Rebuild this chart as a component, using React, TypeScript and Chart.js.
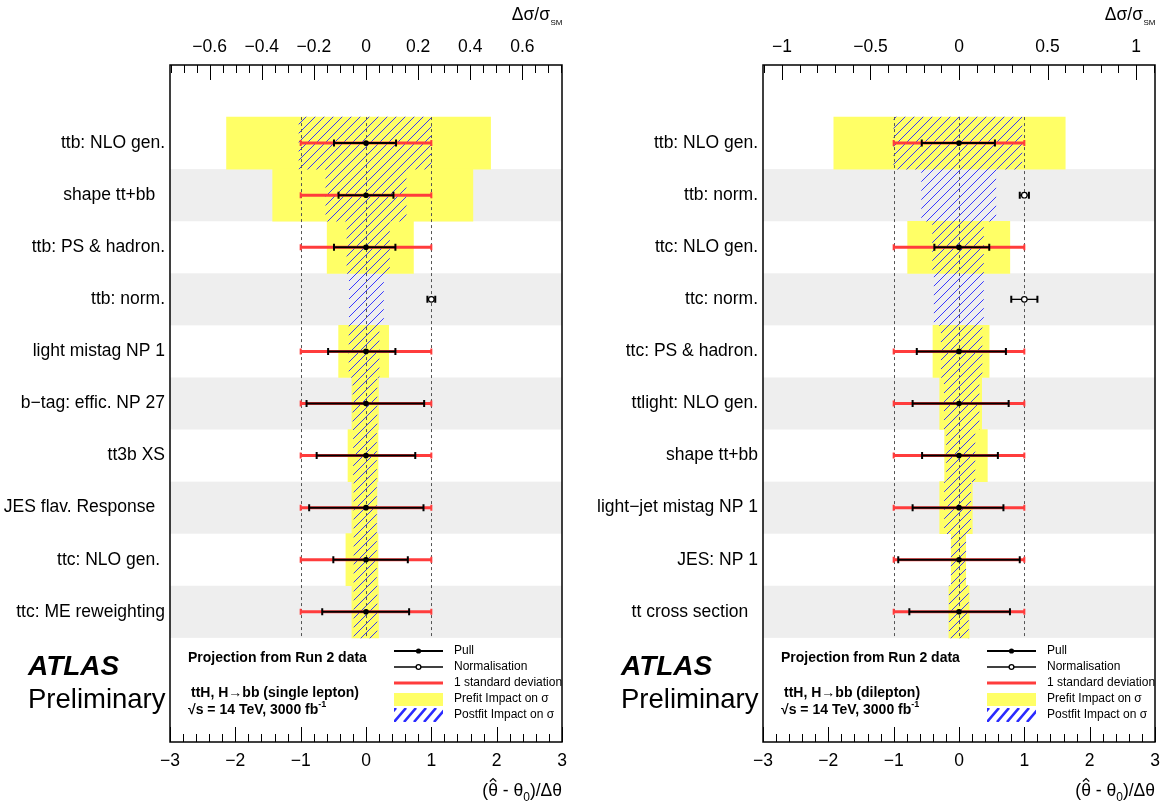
import { useEffect, useRef } from 'react';
import { Chart, registerables } from 'chart.js';

Chart.register(...registerables);

const FONT = "'Liberation Sans', Arial, Helvetica, sans-serif";

// ---------------- Left panel: single lepton ----------------
const labelsSL = [
  'ttb: NLO gen.',
  'shape tt+bb  ',
  'ttb: PS & hadron.',
  'ttb: norm.',
  'light mistag NP 1',
  'b\u2212tag: effic. NP 27',
  'tt3b XS',
  'JES flav. Response  ',
  'ttc: NLO gen. ',
  'ttc: ME reweighting',
];
// prefit impact on sigma (top axis), [low, high]
const prefitSL: ([number, number] | null)[] = [
  [-0.535, 0.478], [-0.358, 0.41], [-0.149, 0.182], null, [-0.105, 0.087],
  [-0.054, 0.048], [-0.069, 0.046], [-0.054, 0.042], [-0.077, 0.046], [-0.054, 0.048],
];
// postfit impact on sigma (top axis), [low, high]
const postfitSL: ([number, number] | null)[] = [
  [-0.257, 0.25], [-0.154, 0.154], [-0.073, 0.09], [-0.064, 0.067], [-0.065, 0.05],
  [-0.05, 0.042], [-0.048, 0.04], [-0.046, 0.04], [-0.046, 0.04], [-0.046, 0.042],
];
const pullSL: (number | null)[] = [0, 0, 0, null, 0, 0, 0, 0, 0, 0];
const pullErrLoSL: (number | null)[] = [0.49, 0.42, 0.49, null, 0.58, 0.91, 0.755, 0.87, 0.5, 0.67];
const pullErrHiSL: (number | null)[] = [0.46, 0.42, 0.45, null, 0.45, 0.89, 0.754, 0.88, 0.64, 0.66];
const normSL: (number | null)[] = [null, null, null, 1.0, null, null, null, null, null, null];
const normErrSL: (number | null)[] = [null, null, null, 0.06, null, null, null, null, null, null];
const topTicksSL = [-0.6, -0.4, -0.2, 0, 0.2, 0.4, 0.6];

// ---------------- Right panel: dilepton ----------------
const labelsDL = [
  'ttb: NLO gen.',
  'ttb: norm.',
  'ttc: NLO gen.',
  'ttc: norm.',
  'ttc: PS & hadron.',
  'ttlight: NLO gen.',
  'shape tt+bb',
  'light\u2212jet mistag NP 1',
  'JES: NP 1',
  'tt cross section  ',
];
const prefitDL: ([number, number] | null)[] = [
  [-0.707, 0.6], null, [-0.29, 0.287], null, [-0.147, 0.17],
  [-0.109, 0.128], [-0.081, 0.16], [-0.109, 0.075], [-0.044, 0.038], [-0.057, 0.057],
];
const postfitDL: ([number, number] | null)[] = [
  [-0.368, 0.355], [-0.211, 0.208], [-0.149, 0.138], [-0.14, 0.138], [-0.1, 0.13],
  [-0.083, 0.113], [-0.07, 0.09], [-0.082, 0.066], [-0.044, 0.038], [-0.055, 0.053],
];
const pullDL: (number | null)[] = [0, null, 0, null, 0, 0, 0, 0, 0, 0];
const pullErrLoDL: (number | null)[] = [0.57, null, 0.377, null, 0.646, 0.71, 0.565, 0.71, 0.93, 0.76];
const pullErrHiDL: (number | null)[] = [0.55, null, 0.463, null, 0.718, 0.76, 0.595, 0.68, 0.93, 0.78];
const normDL: (number | null)[] = [null, 1.0, null, 1.0, null, null, null, null, null, null];
const normErrDL: (number | null)[] = [null, 0.07, null, 0.2, null, null, null, null, null, null];
const topTicksDL = [-1, -0.5, 0, 0.5, 1];

// shared
const bottomTicks = [-3, -2, -1, 0, 1, 2, 3];
const sigmaLines = [-1, 0, 1];
const oneSigma: [number, number] = [-1, 1];
const legendEntries = ['Pull', 'Normalisation', '1 standard deviation', 'Prefit Impact on \u03c3', 'Postfit Impact on \u03c3'];

type Panel = {
  labels: string[];
  prefit: ([number, number] | null)[];
  postfit: ([number, number] | null)[];
  pull: (number | null)[];
  errLo: (number | null)[];
  errHi: (number | null)[];
  norm: (number | null)[];
  normErr: (number | null)[];
  topTicks: number[];
  topMax: number;
  topMinor: number;
  topMajorEvery: number;
  channel: string;
  frameLeft: number;
  frameRight: number;
};

const panelSL: Panel = {
  labels: labelsSL, prefit: prefitSL, postfit: postfitSL, pull: pullSL,
  errLo: pullErrLoSL, errHi: pullErrHiSL, norm: normSL, normErr: normErrSL,
  topTicks: topTicksSL, topMax: 0.752, topMinor: 0.05, topMajorEvery: 4,
  channel: 'ttH, H\u2192bb (single lepton)', frameLeft: 170, frameRight: 562,
};
const panelDL: Panel = {
  labels: labelsDL, prefit: prefitDL, postfit: postfitDL, pull: pullDL,
  errLo: pullErrLoDL, errHi: pullErrHiDL, norm: normDL, normErr: normErrDL,
  topTicks: topTicksDL, topMax: 1.107, topMinor: 0.1, topMajorEvery: 5,
  channel: 'ttH, H\u2192bb (dilepton)', frameLeft: 182, frameRight: 574,
};

const W = 581;
const H = 805;
const TOP = 65;
const BOTTOM = 742;
const YELLOW = '#ffff66';
const RED = '#ff3c3c';

const fmt = (v: number) => (v < 0 ? '\u2212' : '') + String(Math.abs(v));

function makeHatch(): CanvasPattern | string {
  const c = document.createElement('canvas');
  c.width = 9;
  c.height = 9;
  const g = c.getContext('2d');
  if (!g) return 'rgba(60,60,255,0.4)';
  g.strokeStyle = 'rgba(45,45,255,0.95)';
  g.lineWidth = 1;
  g.beginPath();
  g.moveTo(0, 9); g.lineTo(9, 0);
  g.moveTo(-1, 1); g.lineTo(1, -1);
  g.moveTo(8, 10); g.lineTo(10, 8);
  g.stroke();
  const pat = g.createPattern(c, 'repeat');
  return pat || 'rgba(60,60,255,0.4)';
}

function buildChart(canvas: HTMLCanvasElement, p: Panel) {
  const N = p.labels.length;
  const yLabels = ['', ...p.labels, '', ''];
  const rowData = (arr: ([number, number] | null)[]) =>
    yLabels.map((_, k) => (k >= 1 && k <= N ? arr[k - 1] : null));
  const hatch = makeHatch();

  const pullPts: { x: number; y: string }[] = [];
  p.pull.forEach((v, i) => { if (v != null) pullPts.push({ x: v, y: p.labels[i] }); });
  const normPts: { x: number; y: string }[] = [];
  p.norm.forEach((v, i) => { if (v != null) normPts.push({ x: v, y: p.labels[i] }); });

  const hline = (ctx: CanvasRenderingContext2D, x0: number, x1: number, y: number, color: string, lw: number, cap: number) => {
    ctx.strokeStyle = color;
    ctx.lineWidth = lw;
    ctx.beginPath();
    ctx.moveTo(x0, y); ctx.lineTo(x1, y);
    ctx.stroke();
    ctx.lineWidth = 2;
    ctx.beginPath();
    ctx.moveTo(x0, y - cap); ctx.lineTo(x0, y + cap);
    ctx.moveTo(x1, y - cap); ctx.lineTo(x1, y + cap);
    ctx.stroke();
  };

  const overlay = {
    id: 'overlay',
    beforeDatasetsDraw(chart: any) {
      const { ctx, chartArea: ca } = chart;
      const yS = chart.scales.y;
      const band = Math.abs(yS.getPixelForValue(1) - yS.getPixelForValue(0));
      ctx.save();
      ctx.fillStyle = '#eeeeee';
      for (let i = 0; i < N; i++) {
        if (i % 2 === 1) {
          const yc = yS.getPixelForValue(i + 1);
          ctx.fillRect(ca.left, yc - band / 2, ca.right - ca.left, band);
        }
      }
      ctx.restore();
    },
    afterDatasetDraw(chart: any, args: any) {
      if (args.index !== 1) return;
      const { ctx } = chart;
      const yS = chart.scales.y;
      const xS = chart.scales.x;
      const band = Math.abs(yS.getPixelForValue(1) - yS.getPixelForValue(0));
      const y0 = yS.getPixelForValue(1) - band / 2;
      const y1 = yS.getPixelForValue(N) + band / 2;
      ctx.save();
      ctx.strokeStyle = '#555';
      ctx.lineWidth = 1;
      ctx.setLineDash([3, 3]);
      sigmaLines.forEach((v) => {
        const px = Math.round(xS.getPixelForValue(v)) + 0.5;
        ctx.beginPath();
        ctx.moveTo(px, y0); ctx.lineTo(px, y1);
        ctx.stroke();
      });
      ctx.setLineDash([]);
      for (let i = 0; i < N; i++) {
        const yc = yS.getPixelForValue(i + 1);
        const pv = p.pull[i];
        if (pv != null) {
          hline(ctx, xS.getPixelForValue(oneSigma[0]), xS.getPixelForValue(oneSigma[1]), yc, RED, 3, 3);
          hline(ctx, xS.getPixelForValue(pv - (p.errLo[i] || 0)), xS.getPixelForValue(pv + (p.errHi[i] || 0)), yc, '#000', 2, 3.5);
        }
        const nv = p.norm[i];
        if (nv != null) {
          const e = p.normErr[i] || 0;
          hline(ctx, xS.getPixelForValue(nv - e), xS.getPixelForValue(nv + e), yc, '#000', 1.3, 3.5);
        }
      }
      ctx.restore();
    },
    afterDraw(chart: any) {
      const { ctx, chartArea: ca } = chart;
      const xS = chart.scales.x;
      const xT = chart.scales.xTop;
      ctx.save();
      // frame
      ctx.strokeStyle = '#000';
      ctx.lineWidth = 1.5;
      ctx.strokeRect(ca.left, ca.top, ca.right - ca.left, ca.bottom - ca.top);
      // ticks
      ctx.lineWidth = 1;
      const ticks = (scale: any, min: number, max: number, step: number, every: number, yBase: number, dir: number) => {
        const kMin = Math.ceil(min / step - 1e-6);
        const kMax = Math.floor(max / step + 1e-6);
        ctx.beginPath();
        for (let k = kMin; k <= kMax; k++) {
          const px = Math.round(scale.getPixelForValue(k * step)) + 0.5;
          const len = k % every === 0 ? 15 : 8;
          ctx.moveTo(px, yBase);
          ctx.lineTo(px, yBase + dir * len);
        }
        ctx.stroke();
      };
      ticks(xT, -p.topMax, p.topMax, p.topMinor, p.topMajorEvery, ca.top, 1);
      ticks(xS, bottomTicks[0], bottomTicks[bottomTicks.length - 1], 0.2, 5, ca.bottom, -1);

      ctx.fillStyle = '#000';
      ctx.textBaseline = 'middle';
      ctx.textAlign = 'left';
      // ATLAS Preliminary
      ctx.font = `italic bold 28px ${FONT}`;
      ctx.fillText('ATLAS', ca.left - 142, ca.bottom - 75);
      ctx.font = `27.5px ${FONT}`;
      ctx.fillText('Preliminary', ca.left - 142, ca.bottom - 42);
      // annotation
      ctx.font = `bold 14px ${FONT}`;
      ctx.fillText('Projection from Run 2 data', ca.left + 18, ca.bottom - 84);
      ctx.fillText(p.channel, ca.left + 21, ca.bottom - 49);
      const sq = '\u221as = 14 TeV, 3000 fb';
      ctx.fillText(sq, ca.left + 18, ca.bottom - 32);
      const sqW = ctx.measureText(sq).width;
      ctx.font = `bold 9px ${FONT}`;
      ctx.fillText('-1', ca.left + 18 + sqW, ca.bottom - 37);

      // legend
      const lx0 = ca.left + 224;
      const lx1 = ca.left + 273;
      const tx = ca.left + 284;
      const lys = [ca.bottom - 91, ca.bottom - 75, ca.bottom - 59, ca.bottom - 43, ca.bottom - 27];
      // Pull
      ctx.strokeStyle = '#000';
      ctx.lineWidth = 2;
      ctx.beginPath(); ctx.moveTo(lx0, lys[0]); ctx.lineTo(lx1, lys[0]); ctx.stroke();
      ctx.beginPath(); ctx.arc((lx0 + lx1) / 2, lys[0], 2.6, 0, Math.PI * 2); ctx.fill();
      // Normalisation
      ctx.lineWidth = 1.3;
      ctx.beginPath(); ctx.moveTo(lx0, lys[1]); ctx.lineTo(lx1, lys[1]); ctx.stroke();
      ctx.fillStyle = '#fff';
      ctx.beginPath(); ctx.arc((lx0 + lx1) / 2, lys[1], 2.4, 0, Math.PI * 2); ctx.fill(); ctx.stroke();
      ctx.fillStyle = '#000';
      // 1 sigma
      ctx.strokeStyle = RED;
      ctx.lineWidth = 3;
      ctx.beginPath(); ctx.moveTo(lx0, lys[2]); ctx.lineTo(lx1, lys[2]); ctx.stroke();
      // prefit
      ctx.fillStyle = YELLOW;
      ctx.fillRect(lx0, lys[3] - 6, lx1 - lx0, 13);
      // postfit
      ctx.save();
      ctx.beginPath();
      ctx.rect(lx0, lys[4] - 7, lx1 - lx0, 14);
      ctx.clip();
      ctx.strokeStyle = '#2a2aff';
      ctx.lineWidth = 2.6;
      ctx.beginPath();
      for (let x = lx0 - 10; x < lx1 + 10; x += 10) {
        ctx.moveTo(x, lys[4] + 7);
        ctx.lineTo(x + 12, lys[4] - 7);
      }
      ctx.stroke();
      ctx.restore();
      ctx.fillStyle = '#000';
      ctx.font = `12px ${FONT}`;
      legendEntries.forEach((t, i) => ctx.fillText(t, tx, lys[i]));

      // top axis title: Δσ/σ_SM
      const t1 = '\u0394\u03c3/\u03c3';
      ctx.font = `17.5px ${FONT}`;
      const w1 = ctx.measureText(t1).width;
      ctx.font = `8px ${FONT}`;
      const w2 = ctx.measureText('SM').width;
      let x = ca.right - w1 - w2;
      ctx.font = `17.5px ${FONT}`;
      ctx.fillText(t1, x, 15);
      ctx.font = `8px ${FONT}`;
      ctx.fillText('SM', x + w1 + 0.5, 23);

      // bottom axis title: (θ̂ - θ0)/Δθ
      const a0 = '(';
      const a1 = '\u03b8';
      const a2 = ' - \u03b8';
      const b = '0';
      const c = ')/\u0394\u03b8';
      ctx.font = `17.5px ${FONT}`;
      const wa0 = ctx.measureText(a0).width;
      const wa1 = ctx.measureText(a1).width;
      const wa2 = ctx.measureText(a2).width;
      const wc = ctx.measureText(c).width;
      ctx.font = `12px ${FONT}`;
      const wb = ctx.measureText(b).width;
      x = ca.right - wa0 - wa1 - wa2 - wb - wc;
      const yb = 791;
      ctx.font = `17.5px ${FONT}`;
      ctx.fillText(a0 + a1 + a2, x, yb);
      // hat over the first theta
      const hx = x + wa0 + wa1 / 2;
      ctx.strokeStyle = '#000';
      ctx.lineWidth = 1.1;
      ctx.beginPath();
      ctx.moveTo(hx - 3.2, yb - 9.5);
      ctx.lineTo(hx, yb - 12.5);
      ctx.lineTo(hx + 3.2, yb - 9.5);
      ctx.stroke();
      ctx.font = `12px ${FONT}`;
      ctx.fillText(b, x + wa0 + wa1 + wa2, yb + 7);
      ctx.font = `17.5px ${FONT}`;
      ctx.fillText(c, x + wa0 + wa1 + wa2 + wb, yb);
      ctx.restore();
    },
  };

  const zeroPadX = (s: any) => { s.paddingLeft = 0; s.paddingRight = 0; };

  return new Chart(canvas, {
    type: 'bar',
    data: {
      labels: yLabels,
      datasets: [
        {
          type: 'bar',
          label: 'Prefit Impact on \u03c3',
          indexAxis: 'y',
          xAxisID: 'xTop',
          yAxisID: 'y',
          data: rowData(p.prefit) as any,
          backgroundColor: YELLOW,
          borderWidth: 0,
          grouped: false,
          categoryPercentage: 1,
          barPercentage: 1,
          order: 4,
        },
        {
          type: 'bar',
          label: 'Postfit Impact on \u03c3',
          indexAxis: 'y',
          xAxisID: 'xTop',
          yAxisID: 'y',
          data: rowData(p.postfit) as any,
          backgroundColor: hatch as any,
          borderWidth: 0,
          grouped: false,
          categoryPercentage: 1,
          barPercentage: 1,
          order: 3,
        },
        {
          type: 'scatter',
          label: 'Pull',
          xAxisID: 'x',
          yAxisID: 'y',
          data: pullPts as any,
          pointRadius: 2.8,
          pointBackgroundColor: '#000',
          pointBorderColor: '#000',
          pointBorderWidth: 0,
          order: 1,
        },
        {
          type: 'scatter',
          label: 'Normalisation',
          xAxisID: 'x',
          yAxisID: 'y',
          data: normPts as any,
          pointRadius: 2.8,
          pointBackgroundColor: '#fff',
          pointBorderColor: '#000',
          pointBorderWidth: 1.2,
          order: 0,
        },
      ] as any,
    },
    options: {
      animation: false,
      responsive: false,
      devicePixelRatio: 1,
      events: [],
      layout: { padding: { left: 0, right: W - p.frameRight, top: 0, bottom: 0 } },
      plugins: { legend: { display: false }, tooltip: { enabled: false }, title: { display: false } },
      scales: {
        y: {
          type: 'category',
          position: 'left',
          offset: true,
          grid: { display: false, drawTicks: false },
          border: { display: false },
          ticks: { color: '#000', font: { family: FONT, size: 17.5 }, padding: 5, autoSkip: false },
          afterFit: (s: any) => { s.width = p.frameLeft; s.paddingTop = 0; s.paddingBottom = 0; },
        },
        x: {
          type: 'linear',
          position: 'bottom',
          min: bottomTicks[0],
          max: bottomTicks[bottomTicks.length - 1],
          offset: false,
          bounds: 'data',
          grid: { display: false, drawTicks: false },
          border: { display: false },
          afterBuildTicks: (s: any) => { s.ticks = bottomTicks.map((v) => ({ value: v })); },
          ticks: { color: '#000', font: { family: FONT, size: 17.5 }, padding: 9, maxRotation: 0, autoSkip: false, callback: (v: any) => fmt(Number(v)) },
          afterFit: (s: any) => { s.height = H - BOTTOM; zeroPadX(s); },
        },
        xTop: {
          type: 'linear',
          position: 'top',
          min: -p.topMax,
          max: p.topMax,
          offset: false,
          bounds: 'data',
          grid: { display: false, drawTicks: false },
          border: { display: false },
          afterBuildTicks: (s: any) => { s.ticks = p.topTicks.map((v) => ({ value: v })); },
          ticks: { color: '#000', font: { family: FONT, size: 17.5 }, padding: 7, maxRotation: 0, autoSkip: false, callback: (v: any) => fmt(Number(v)) },
          afterFit: (s: any) => { s.height = TOP; zeroPadX(s); },
        },
      } as any,
    } as any,
    plugins: [overlay],
  });
}

export default function App() {
  const leftRef = useRef<HTMLCanvasElement>(null);
  const rightRef = useRef<HTMLCanvasElement>(null);
  useEffect(() => {
    document.body.style.margin = '0';
    const charts: Chart[] = [];
    if (leftRef.current) charts.push(buildChart(leftRef.current, panelSL));
    if (rightRef.current) charts.push(buildChart(rightRef.current, panelDL));
    return () => charts.forEach((c) => c.destroy());
  }, []);
  return (
    <div style={{ position: 'relative', width: 1162, height: 805, background: '#fff', overflow: 'hidden' }}>
      <canvas ref={leftRef} width={W} height={H} style={{ position: 'absolute', left: 0, top: 0, width: W, height: H }} />
      <canvas ref={rightRef} width={W} height={H} style={{ position: 'absolute', left: 581, top: 0, width: W, height: H }} />
    </div>
  );
}
